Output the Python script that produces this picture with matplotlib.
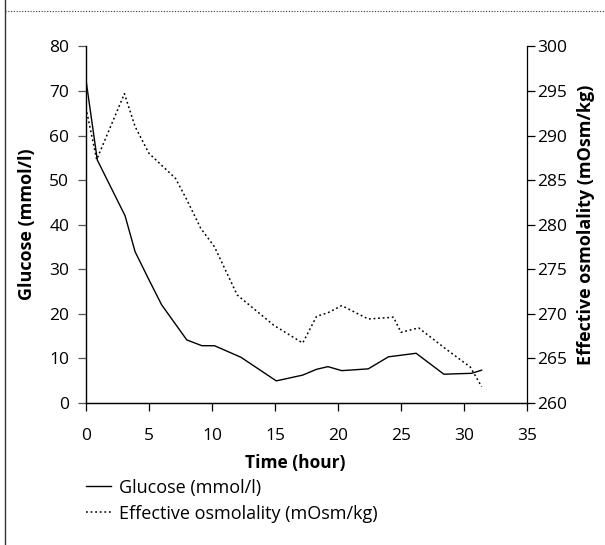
import matplotlib
matplotlib.use('Agg')
import matplotlib.pyplot as plt
from matplotlib.lines import Line2D

plt.rcParams['font.family'] = ['Open Sans', 'DejaVu Sans']

# Glucose (mmol/l), left axis
glucose_time = [0, 0.9, 3.1, 3.9, 5.0, 6.0, 8.0, 9.2, 10.2, 12.3, 15.1, 17.2,
                18.3, 19.2, 20.3, 22.4, 24.0, 26.2, 28.4, 30.6, 31.4]
glucose = [72.5, 54.5, 42.0, 33.9, 27.6, 22.0, 14.1, 12.8, 12.8, 10.2, 4.9, 6.2,
           7.5, 8.1, 7.2, 7.6, 10.3, 11.1, 6.4, 6.6, 7.3]

# Effective osmolality (mOsm/kg), right axis
osm_time = [0, 0.85, 3.05, 3.9, 5.0, 7.1, 8.0, 9.1, 10.2, 12.0, 14.9, 17.2,
            18.3, 19.2, 20.3, 22.4, 24.4, 25.0, 26.4, 28.5, 30.5, 31.4]
osm = [293.1, 287.3, 294.7, 291.0, 288.0, 285.2, 282.8, 279.6, 277.5, 272.1, 268.7, 266.7,
       269.7, 270.1, 270.9, 269.4, 269.6, 267.9, 268.4, 266.1, 264.0, 261.8]

x_ticks = [0, 5, 10, 15, 20, 25, 30, 35]
left_ticks = [0, 10, 20, 30, 40, 50, 60, 70, 80]
right_ticks = [260, 265, 270, 275, 280, 285, 290, 295, 300]

fig = plt.figure(figsize=(6.05, 5.45), dpi=100)
ax = fig.add_axes([0.1421, 0.2611, 0.7290, 0.6536])
ax2 = ax.twinx()

ax.plot(glucose_time, glucose, color='black', lw=1.0)
ax2.plot(osm_time, osm, color='black', lw=1.1, linestyle=(0, (1.2, 1.8)))

ax.set_xlim(0, 35)
ax.set_ylim(0, 80)
ax2.set_ylim(260, 300)
ax.set_xticks(x_ticks)
ax.set_yticks(left_ticks)
ax2.set_yticks(right_ticks)

for a in (ax, ax2):
    a.spines['top'].set_visible(False)
    for s in a.spines.values():
        s.set_linewidth(0.9)
ax.spines['right'].set_visible(False)
ax.spines['left'].set_color('#555555')
ax.tick_params(axis='y', direction='out', length=6, width=0.9, color='#555555',
               pad=6, labelsize=12.5)
ax.tick_params(axis='x', direction='out', length=6, width=0.9, pad=12, labelsize=12.5)
ax2.tick_params(axis='y', direction='out', length=6, width=0.9, pad=1, labelsize=12.5)

ax.set_xlabel('Time (hour)', fontsize=12.5, fontweight='bold')
ax.xaxis.set_label_coords(0.475, -0.145)
ax.set_ylabel('Glucose (mmol/l)', fontsize=13, fontweight='bold')
ax.yaxis.set_label_coords(-0.113, 0.5)
ax2.set_ylabel('Effective osmolality (mOsm/kg)', fontsize=13, fontweight='bold')
ax2.yaxis.set_label_coords(1.113, 0.5)

handles = [Line2D([], [], color='black', lw=1.0),
           Line2D([], [], color='black', lw=1.1, linestyle=(0, (1.2, 1.8)))]
fig.legend(handles, ['Glucose (mmol/l)', 'Effective osmolality (mOsm/kg)'],
           loc='upper left', bbox_to_anchor=(0.142, 0.122), frameon=False,
           fontsize=13, handlelength=1.4, handletextpad=0.45, labelspacing=0.45,
           borderaxespad=0, borderpad=0)

# page frame: left rule and dotted top rule
fig.add_artist(Line2D([0.0083, 0.0083], [0, 1.0], color='#333333', lw=1.0,
                      transform=fig.transFigure))
fig.add_artist(Line2D([0.0083, 1.0], [0.98, 0.98], color='#333333', lw=0.8,
                      linestyle=(0, (1, 1.5)), transform=fig.transFigure))

fig.savefig('out.png', dpi=100)
